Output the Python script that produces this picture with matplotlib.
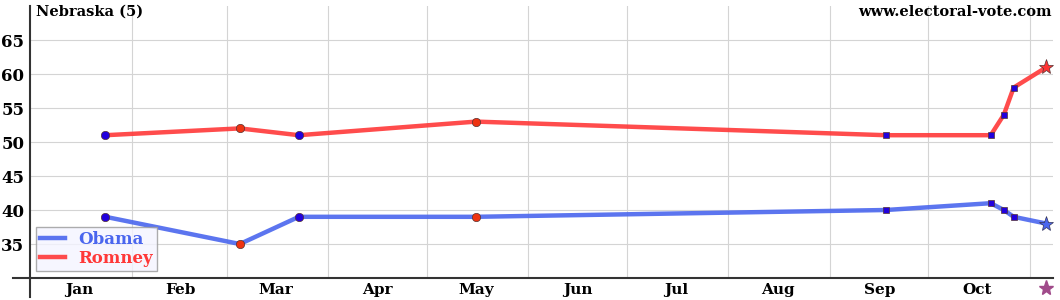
import datetime as dt
import matplotlib
matplotlib.use('Agg')
import matplotlib.pyplot as plt
from matplotlib.lines import Line2D

# poll data (2012)
dates = ['2012-01-24', '2012-03-05', '2012-03-23', '2012-05-16', '2012-09-18',
         '2012-10-20', '2012-10-24', '2012-10-27']
obama = [39, 35, 39, 39, 40, 41, 40, 39]
romney = [51, 52, 51, 53, 51, 51, 54, 58]
marker_kind = ['o', 'o', 'o', 'o', 's', 's', 's', 's']
marker_col = ['#2200dd', '#ee3311', '#2200dd', '#ee3311', '#2200dd', '#2200dd', '#2200dd', '#2200dd']
election_day = '2012-11-06'
obama_final = 38
romney_final = 61
months = ['Jan', 'Feb', 'Mar', 'Apr', 'May', 'Jun', 'Jul', 'Aug', 'Sep', 'Oct']

d = [dt.datetime.strptime(s, '%Y-%m-%d') for s in dates]
eday = dt.datetime.strptime(election_day, '%Y-%m-%d')

plt.rcParams['font.family'] = ['DejaVu Serif']
fig = plt.figure(figsize=(10.6, 3), dpi=100)
ax = fig.add_axes([0.0283, 0.0733, 0.9651, 0.9067])

blue = '#4a66ee'
red = '#ff3838'
ax.plot(d + [eday], obama + [obama_final], color=blue, lw=3.2, alpha=0.9, zorder=3, label='Obama')
ax.plot(d + [eday], romney + [romney_final], color=red, lw=3.2, alpha=0.9, zorder=3, label='Romney')
for xi, o, r, m, c in zip(d, obama, romney, marker_kind, marker_col):
    ms = 6 if m == 'o' else 5
    ax.plot(xi, o, marker=m, color=c, ms=ms, mec='#553333', mew=0.5, zorder=4)
    ax.plot(xi, r, marker=m, color=c, ms=ms, mec='#553333', mew=0.5, zorder=4)
ax.plot(eday, obama_final, marker='*', color='#4a66ee', ms=11, mec='#335', mew=0.5, zorder=5)
ax.plot(eday, romney_final, marker='*', color='#ff3333', ms=11, mec='#533', mew=0.5, zorder=5)
ax.plot(eday, 28.6, marker='*', color='#a04a8a', ms=11, clip_on=False, zorder=5)

ax.set_xlim(dt.datetime(2012, 1, 1), dt.datetime(2012, 11, 8))
ax.set_ylim(30, 70)
ax.set_yticks([35, 40, 45, 50, 55, 60, 65])
ax.tick_params(axis='y', length=0, labelsize=12, pad=4)
for t in ax.get_yticklabels():
    t.set_fontweight('bold')

month_starts = [dt.datetime(2012, m, 1) for m in range(2, 12)]
ax.set_xticks(month_starts)
ax.set_xticklabels([])
ax.tick_params(axis='x', length=0)
mid = [dt.datetime(2012, m, 1) + dt.timedelta(days=15) for m in range(1, 11)]
for x, lab in zip(mid, months):
    ax.text(x, 28.3, lab, ha='center', va='center', fontsize=11, fontweight='bold')
ax.grid(True, color='#d4d4d4', lw=0.8)
ax.set_axisbelow(True)

for s in ['top', 'right']:
    ax.spines[s].set_visible(False)
ax.spines['left'].set_color('#333333')
ax.spines['bottom'].set_color('#333333')
ax.spines['left'].set_linewidth(1.5)
ax.spines['bottom'].set_linewidth(1.5)
ax.add_line(Line2D([-0.017, 0], [0, 0], transform=ax.transAxes, color='#333333', lw=1.5, clip_on=False))
ax.add_line(Line2D([0, 0], [0, -0.07], transform=ax.transAxes, color='#333333', lw=1.5, clip_on=False))

fig.text(0.034, 0.96, 'Nebraska (5)', fontsize=10.5, fontweight='bold', ha='left', va='center')
fig.text(0.992, 0.96, 'www.electoral-vote.com', fontsize=10.5, fontweight='bold', ha='right', va='center')

leg = ax.legend(loc='lower left', bbox_to_anchor=(0.006, 0.024), borderaxespad=0, fontsize=12,
                frameon=True, handlelength=1.5, borderpad=0.25, labelspacing=0.15, fancybox=False)
leg.get_frame().set_facecolor('#f4f4ff')
leg.get_frame().set_edgecolor('#999999')
for t, c in zip(leg.get_texts(), [blue, red]):
    t.set_color(c)
    t.set_fontweight('semibold')

fig.savefig('out.png', dpi=100)
